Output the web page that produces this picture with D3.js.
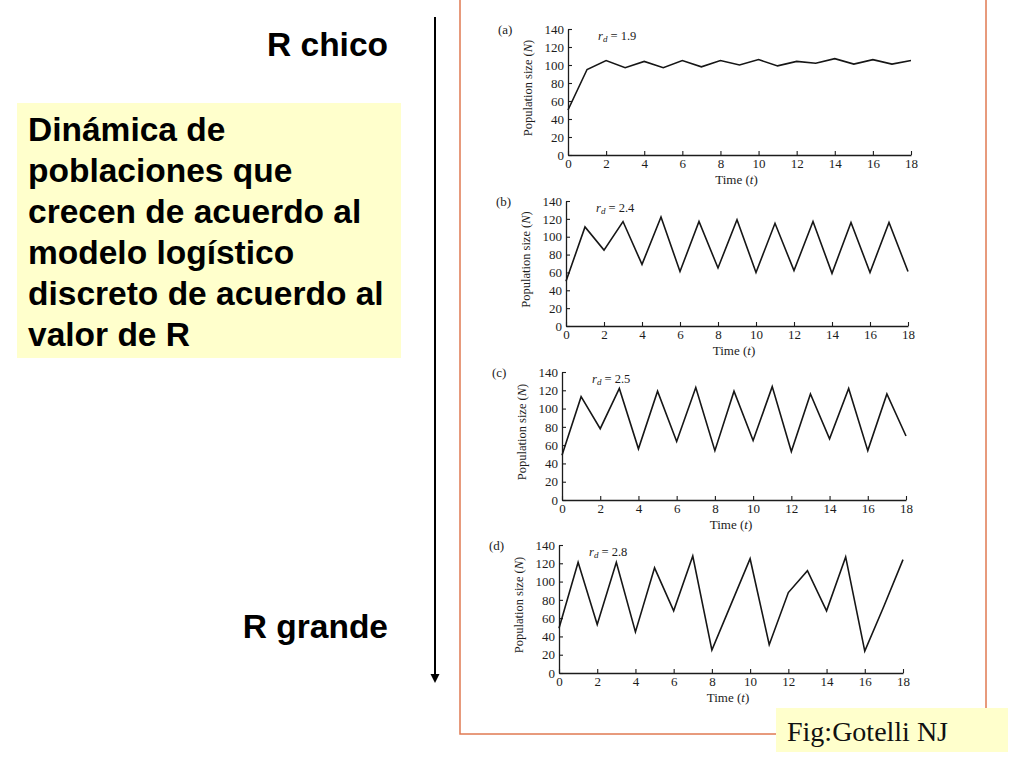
<!DOCTYPE html>
<html>
<head>
    <meta charset="UTF-8">
    <title>Modelo logístico discreto</title>
    <!-- link to D3.js -->
    <script src="https://d3js.org/d3.v7.min.js"></script>
    <style>
        body { margin: 0; background: white; }
        svg { display: block; }
    </style>
</head>

<body>
    <!-- div for SVG container -->
    <div id="chart"></div>
</body>

<script>
    // time steps and tick labels
    var times = [0, 1, 2, 3, 4, 5, 6, 7, 8, 9, 10, 11, 12, 13, 14, 15, 16, 17, 18];
    var xTicks = [0, 2, 4, 6, 8, 10, 12, 14, 16, 18];
    var yTicks = [0, 20, 40, 60, 80, 100, 120, 140];

    // panel names and r_d values
    var panelNames = ["(a)", "(b)", "(c)", "(d)"];
    var rdValues = ["1.9", "2.4", "2.5", "2.8"];

    // population size, one array per panel
    var popA = [50, 95, 105, 97, 104, 97, 105, 98, 105, 100, 106, 99, 104, 102, 107, 101, 106, 101, 105];
    var popB = [50, 111, 85, 117, 69, 122, 61, 117, 65, 119, 60, 115, 62, 117, 59, 116, 60, 116, 61];
    var popC = [49, 113, 78, 122, 56, 119, 64, 123, 54, 119, 65, 124, 53, 116, 67, 122, 54, 116, 70];
    var popD = [49, 121, 53, 121, 45, 115, 68, 128, 25, 75, 125, 31, 88, 112, 68, 127, 24, 73, 124];

    var series = [popA, popB, popC, popD];

    // where each small plot sits on the page (x of t=0 / t=18, y of N=0 / N=140)
    var panelBoxes = [
        { x0: 568, x1: 911, y0: 155, y1: 29 },
        { x0: 566, x1: 908, y0: 326, y1: 201 },
        { x0: 562, x1: 906, y0: 500, y1: 372 },
        { x0: 559, x1: 903, y0: 673, y1: 545 }
    ];

    var svg = d3.select("#chart").append("svg")
        .attr("width", 1024)
        .attr("height", 768);

    // orange frame round the scanned figure
    svg.append("rect")
        .attr("x", 460)
        .attr("y", -5)
        .attr("width", 526)
        .attr("height", 739)
        .attr("fill", "none")
        .attr("stroke", "#e07a52")
        .attr("stroke-width", 1.5);

    var serif = "'Liberation Serif', 'Times New Roman', serif";

    // draw the four panels
    series.forEach(function(values, i) {
        var box = panelBoxes[i];

        var xScale = d3.scaleLinear()
            .domain([0, 18])
            .range([box.x0, box.x1]);

        var yScale = d3.scaleLinear()
            .domain([0, 140])
            .range([box.y0, box.y1]);

        var g = svg.append("g")
            .attr("font-family", serif);

        // x axis, ticks pointing inward
        var xAxis = d3.axisBottom(xScale)
            .tickValues(xTicks)
            .tickSizeInner(-4)
            .tickSizeOuter(0)
            .tickPadding(4);

        g.append("g")
            .attr("transform", "translate(0," + box.y0 + ")")
            .call(xAxis)
            .call(styleAxis);

        // y axis, ticks pointing inward
        var yAxis = d3.axisLeft(yScale)
            .tickValues(yTicks)
            .tickSizeInner(-4)
            .tickSizeOuter(0)
            .tickPadding(4);

        g.append("g")
            .attr("transform", "translate(" + box.x0 + ",0)")
            .call(yAxis)
            .call(styleAxis);

        // the population curve
        var line = d3.line()
            .x(function(d, k) { return xScale(times[k]); })
            .y(function(d) { return yScale(d); });

        g.append("path")
            .datum(values)
            .attr("d", line)
            .attr("fill", "none")
            .attr("stroke", "#161616")
            .attr("stroke-width", 1.6)
            .attr("stroke-linejoin", "miter");

        // panel letter
        g.append("text")
            .attr("x", box.x0 - 70)
            .attr("y", box.y1 + 5)
            .attr("font-size", "13px")
            .attr("fill", "#1c1c1c")
            .text(panelNames[i]);

        // r_d = value
        var rd = g.append("text")
            .attr("x", box.x0 + 30)
            .attr("y", yScale(128))
            .attr("font-size", "12.5px")
            .attr("fill", "#1c1c1c");
        rd.append("tspan").attr("font-style", "italic").text("r");
        rd.append("tspan").attr("font-style", "italic").attr("font-size", "9px").attr("dy", 2).text("d");
        rd.append("tspan").attr("dy", -2).text(" = " + rdValues[i]);

        // y axis title
        var yt = g.append("text")
            .attr("transform", "translate(" + (box.x0 - 36) + "," + ((box.y0 + box.y1) / 2 - 4) + ") rotate(-90)")
            .attr("text-anchor", "middle")
            .attr("font-size", "12.5px")
            .attr("fill", "#1c1c1c");
        yt.append("tspan").text("Population size (");
        yt.append("tspan").attr("font-style", "italic").text("N");
        yt.append("tspan").text(")");

        // x axis title
        var xt = g.append("text")
            .attr("x", (box.x0 + box.x1) / 2 - 3)
            .attr("y", box.y0 + 29)
            .attr("text-anchor", "middle")
            .attr("font-size", "13px")
            .attr("fill", "#1c1c1c");
        xt.append("tspan").text("Time (");
        xt.append("tspan").attr("font-style", "italic").text("t");
        xt.append("tspan").text(")");
    });

    function styleAxis(sel) {
        sel.attr("font-family", serif)
            .attr("font-size", "13px");
        sel.select(".domain")
            .attr("stroke", "#1c1c1c")
            .attr("stroke-width", 1.3);
        sel.selectAll(".tick line")
            .attr("stroke", "#1c1c1c")
            .attr("stroke-width", 1.1);
        sel.selectAll(".tick text")
            .attr("fill", "#1c1c1c");
    }

    // left side: the slide text
    var sans = "'Liberation Sans', Arial, Helvetica, sans-serif";

    svg.append("text")
        .attr("x", 388)
        .attr("y", 56)
        .attr("text-anchor", "end")
        .attr("font-family", sans)
        .attr("font-weight", "bold")
        .attr("font-size", "33.5px")
        .text("R chico");

    svg.append("text")
        .attr("x", 388)
        .attr("y", 638)
        .attr("text-anchor", "end")
        .attr("font-family", sans)
        .attr("font-weight", "bold")
        .attr("font-size", "33.5px")
        .text("R grande");

    // yellow box with the description
    svg.append("rect")
        .attr("x", 17)
        .attr("y", 103)
        .attr("width", 384)
        .attr("height", 255)
        .attr("fill", "#ffffcc");

    var boxLines = ["Dinámica de", "poblaciones que", "crecen de acuerdo al",
                    "modelo logístico", "discreto de acuerdo al", "valor de R"];

    svg.selectAll(".boxline")
        .data(boxLines)
        .enter()
        .append("text")
            .attr("class", "boxline")
            .attr("x", 28)
            .attr("y", function(d, i) { return 141 + i * 41; })
            .attr("font-family", sans)
            .attr("font-weight", "bold")
            .attr("font-size", "33.5px")
            .text(function(d) { return d; });

    // arrow from R chico to R grande
    svg.append("line")
        .attr("x1", 435)
        .attr("y1", 17)
        .attr("x2", 435)
        .attr("y2", 676)
        .attr("stroke", "black")
        .attr("stroke-width", 2);

    svg.append("path")
        .attr("d", "M430.5,674 L439.5,674 L435,683 Z")
        .attr("fill", "black");

    // credit box
    svg.append("rect")
        .attr("x", 776)
        .attr("y", 708)
        .attr("width", 232)
        .attr("height", 44)
        .attr("fill", "#ffffcc");

    svg.append("text")
        .attr("x", 787)
        .attr("y", 741)
        .attr("font-family", serif)
        .attr("font-size", "28px")
        .attr("fill", "#111")
        .text("Fig:Gotelli NJ");
</script>

</html>
